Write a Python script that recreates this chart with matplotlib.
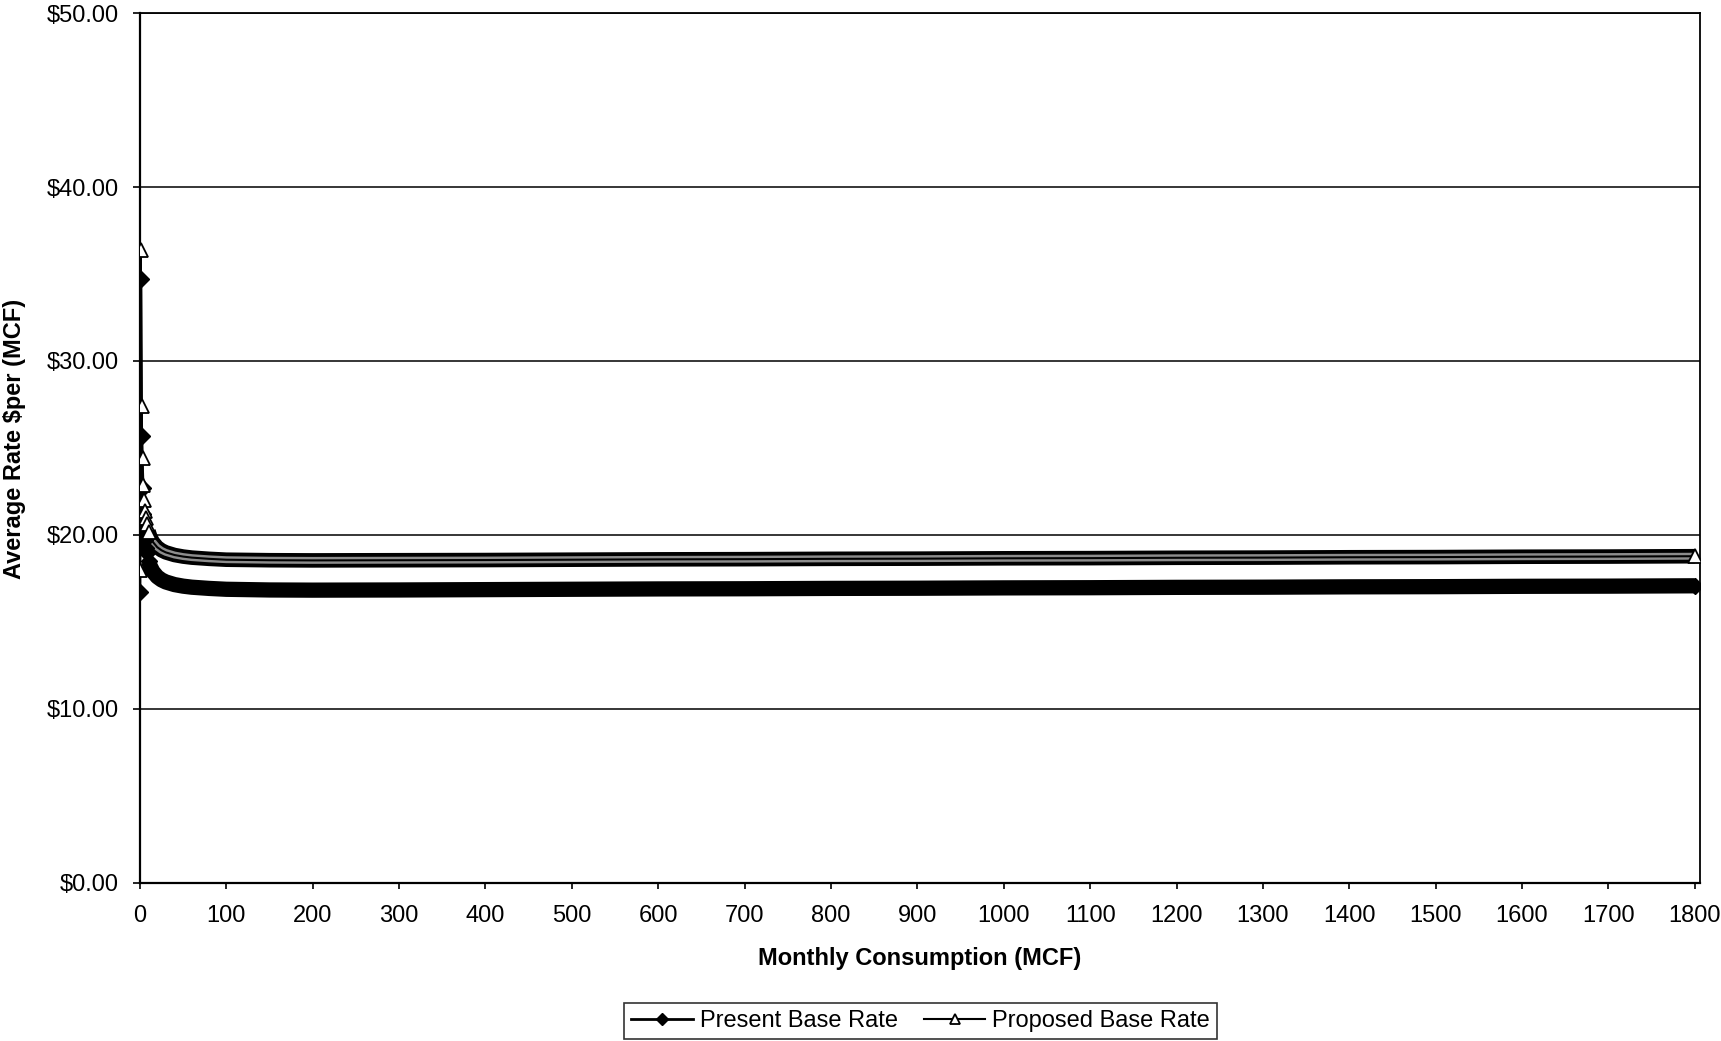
import matplotlib
matplotlib.use("Agg")
import matplotlib.pyplot as plt

plt.rcParams['font.family'] = ['Liberation Sans', 'DejaVu Sans']

# Monthly consumption (MCF) and average rate
consumption = [0, 1, 2, 3, 4, 5, 6, 7, 8, 10, 12, 15, 20, 25, 30, 40, 50, 60, 80,
               100, 150, 200, 300, 400, 500, 600, 700, 800, 900, 1000, 1100,
               1200, 1300, 1400, 1500, 1600, 1700, 1800]
present_rate = [16.7, 34.7, 25.7, 22.7, 21.2, 20.3, 19.7, 19.27, 18.95, 18.5, 18.2,
                17.9, 17.6, 17.42, 17.3, 17.15, 17.06, 17.0, 16.93, 16.88, 16.84,
                16.83, 16.84, 16.86, 16.88, 16.9, 16.91, 16.93, 16.94, 16.96,
                16.97, 16.99, 17.0, 17.02, 17.03, 17.05, 17.06, 17.08]
proposed_rate = [18.0, 36.4, 27.4, 24.4, 22.9, 22.0, 21.4, 20.97, 20.65, 20.2, 19.9,
                 19.6, 19.3, 19.12, 19.0, 18.85, 18.76, 18.7, 18.63, 18.58, 18.55,
                 18.54, 18.55, 18.56, 18.58, 18.6, 18.61, 18.63, 18.64, 18.66,
                 18.67, 18.69, 18.7, 18.72, 18.73, 18.75, 18.76, 18.78]

y_ticks = [0, 10, 20, 30, 40, 50]
x_ticks = list(range(0, 1801, 100))

fig = plt.figure(figsize=(17.21, 10.41), dpi=100)
ax = fig.add_axes([0.0813, 0.1518, 0.9065, 0.8357])

# dense markers in the original merge into a thick band once the curve flattens
flat = 9
ax.plot(consumption[flat:], present_rate[flat:], color="black", lw=11,
        solid_capstyle="butt", zorder=3)
ax.plot(consumption[flat:], proposed_rate[flat:], color="black", lw=10.5,
        solid_capstyle="butt", zorder=3)
ax.plot(consumption[flat:], proposed_rate[flat:], color="#8c8c8c", lw=5,
        solid_capstyle="butt", zorder=3)

shown = list(range(flat + 1)) + [len(consumption) - 1]
ax.plot(consumption, present_rate, color="black", lw=2, marker="D",
        markersize=8, markerfacecolor="black", markeredgecolor="black",
        markevery=shown, zorder=4, label="Present Base Rate")
ax.plot(consumption, proposed_rate, color="black", lw=1.5, marker="^",
        markersize=10, markerfacecolor="white", markeredgecolor="black",
        markeredgewidth=1.3, markevery=shown, zorder=5, label="Proposed Base Rate")

ax.set_xlim(0, 1806)
ax.set_ylim(0, 50)
ax.set_yticks(y_ticks)
ax.set_yticklabels(["${:.2f}".format(v) for v in y_ticks])
ax.set_xticks(x_ticks)
ax.tick_params(axis="y", direction="out", length=5, width=1.2, pad=10, labelsize=17)
ax.tick_params(axis="x", direction="out", length=4, width=1.2, pad=12, labelsize=17)

ax.grid(axis="y", color="black", lw=1.1)
ax.set_axisbelow(True)
for side in ["left", "bottom"]:
    ax.spines[side].set_linewidth(1.6)
for side in ["top", "right"]:
    ax.spines[side].set_linewidth(1.3)

ax.set_xlabel("Monthly Consumption (MCF)", fontsize=17, fontweight="bold")
ax.xaxis.set_label_coords(0.5, -0.074)
ax.set_ylabel("Average Rate $per (MCF)", fontsize=17, fontweight="bold")
ax.yaxis.set_label_coords(-0.073, 0.51)

handles, labels = ax.get_legend_handles_labels()
leg = fig.legend(handles, labels, loc="center", bbox_to_anchor=(0.535, 0.019),
                 ncol=2, fontsize=17, frameon=True, fancybox=False,
                 edgecolor="black", handlelength=2.6, handletextpad=0.3,
                 columnspacing=1.1, borderpad=0.3, markerscale=0.75)
leg.get_frame().set_linewidth(1.2)

fig.savefig("out.png", dpi=100)
